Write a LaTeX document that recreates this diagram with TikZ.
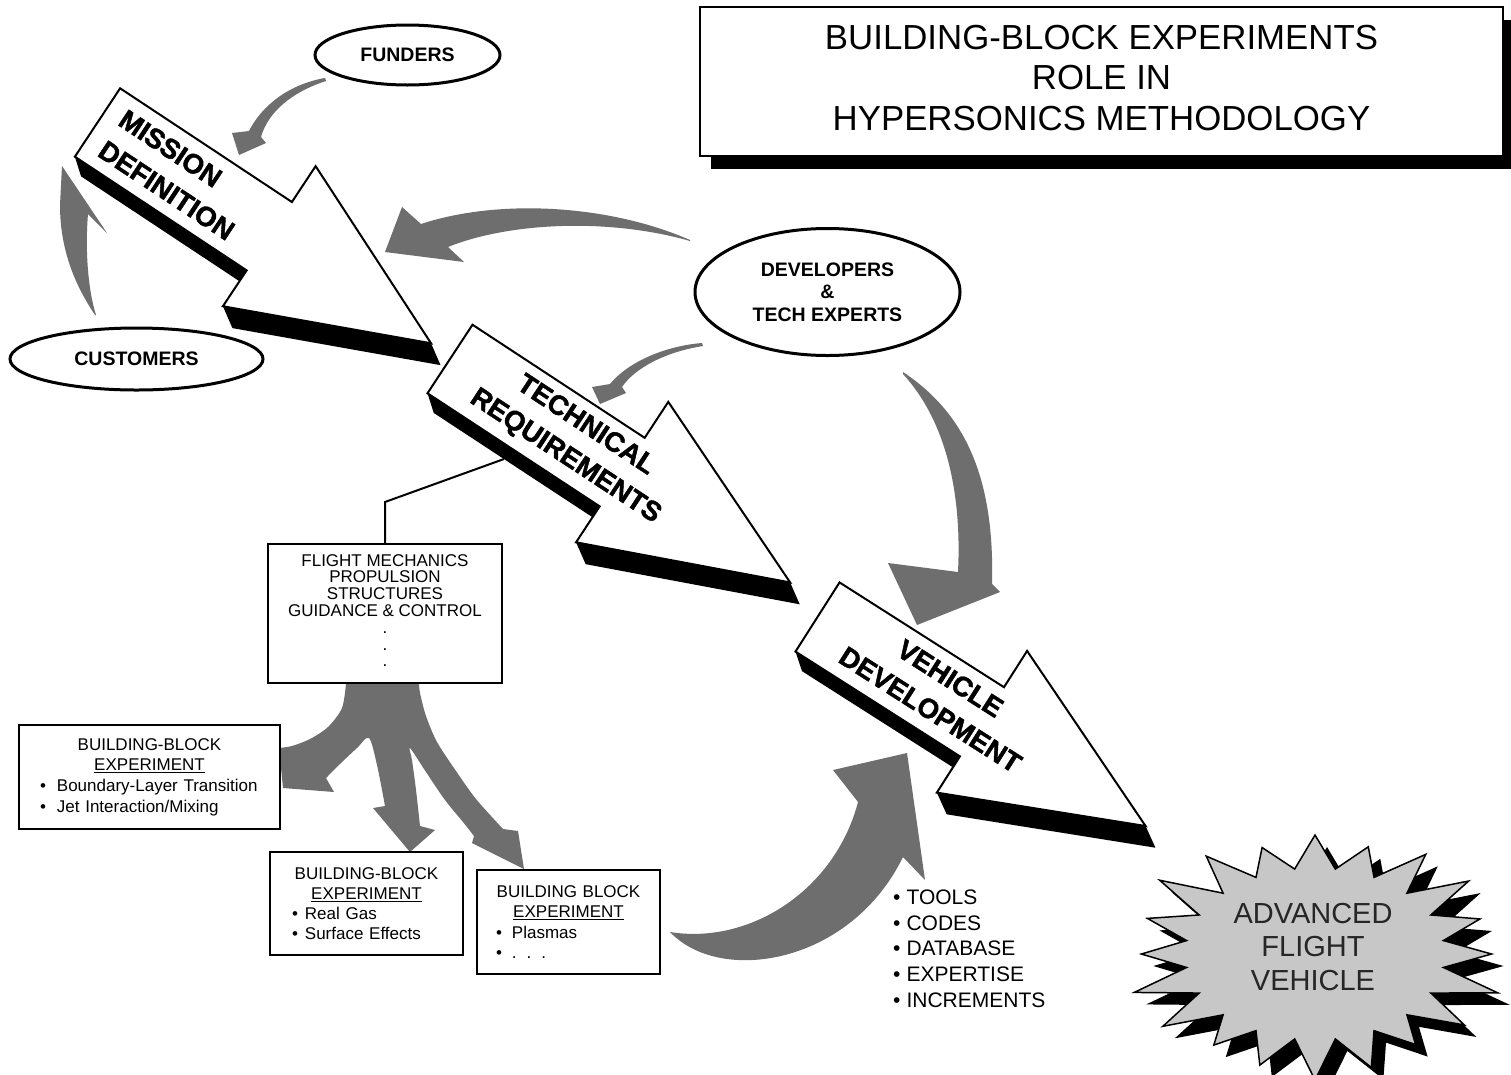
\documentclass[tikz,border=0pt]{standalone}
\usepackage{fontspec}
\setmainfont{Liberation Sans}
\newfontfamily\heavyfont[BoldFeatures={FakeBold=1.6}]{Liberation Sans}
\usetikzlibrary{shapes.geometric}
\begin{document}
\begin{tikzpicture}[x=1pt,y=-1pt,
  graya/.style={fill=black!57},
  blk/.style={draw=black, line width=2pt, fill=white, line join=miter},
  shd/.style={fill=black},
  arrowtext/.style={font=\heavyfont\fontsize{27.5}{37}\selectfont\bfseries, inner sep=0pt, transform shape, align=center},
  oval/.style={ellipse, draw, line width=3pt, fill=white, inner sep=0pt, font=\fontsize{19.5}{22.5}\selectfont\bfseries, align=center},
  bbox/.style={draw, line width=2pt, fill=white, inner ysep=0pt},
  conn/.style={line width=2pt},
]
\useasboundingbox (0,0) rectangle (1511,1074);
\fill[white] (0,0) rectangle (1511,1074);

% ---------- gray curved arrows ----------
% funders -> mission
\fill[graya] (325,78) .. controls (290,84) and (262,105) .. (249,131) -- (232,133) -- (239,155) -- (266,143) -- (261,137) .. controls (268,112) and (292,92) .. (326,81) -- cycle;
% customers -> mission
\fill[graya] (95,315) .. controls (75,285) and (60,250) .. (60,205) -- (62,166) -- (107,233) -- (88,214) .. controls (85,250) and (88,290) .. (96,315) -- cycle;
% developers -> mission
\fill[graya] (690,240) .. controls (610,205) and (500,198) .. (421,224) -- (402,207) -- (385,252) -- (464,262) -- (448,247) .. controls (510,222) and (610,218) .. (690,241) -- cycle;
% developers -> technical
\fill[graya] (702,343) .. controls (665,346) and (628,362) .. (610,384) -- (592,387) -- (600,404) -- (626,393) -- (622,387) .. controls (635,368) and (665,352) .. (703,346) -- cycle;
% developers -> vehicle
\fill[graya] (903,372) .. controls (960,410) and (995,470) .. (992,584) -- (1000,592) -- (917,625) -- (888,563) -- (958,572) .. controls (962,490) and (945,420) .. (903,374) -- cycle;
% experiments -> vehicle
\fill[graya] (670,932) .. controls (720,985) and (850,965) .. (903,857) -- (925,880) -- (907,753) -- (833,770) -- (858,802) .. controls (835,890) and (750,945) .. (670,932) -- cycle;
% fork from flight box to building-block experiments
\fill[graya] (346,683)
  -- plot[smooth, tension=0.5] coordinates {(346,683) (342,708) (328,727) (310,739) (292,746) (279,748)}
  -- (283,788) -- (334,792) -- (326,778)
  -- plot[smooth, tension=0.5] coordinates {(326,778) (341,763) (357,748) (369,738) (377,765) (385,806)}
  -- (373,808) -- (410,852) -- (435,830) -- (420,826)
  -- plot[smooth, tension=0.5] coordinates {(420,826) (416,790) (412,760) (410,748) (426,772) (445,800) (463,822) (474,836)}
  -- (472,843) -- (524,869) -- (518,831) -- (503,829)
  -- plot[smooth, tension=0.5] coordinates {(503,829) (476,799) (456,771) (437,742) (426,716) (420,693) (419,683)}
  -- cycle;

% ---------- block arrows ----------
\begin{scope}[shift={(97.5,122.5)}, rotate=-33.5]
  \fill[shd] (0,41) -- (206,41) -- (206,54) -- (16,54) -- cycle;
  \fill[shd] (206,84) -- (400,0) -- (420,13) -- (226,97) -- cycle;
  \draw[blk] (0,-41) -- (206,-41) -- (206,-84) -- (400,0) -- (206,84) -- (206,41) -- (0,41) -- cycle;
  \node[arrowtext, anchor=west, align=left] (mission) at (17,0) {MISSION\\DEFINITION};
\end{scope}
\begin{scope}[shift={(450,359)}, rotate=-33.3]
  \fill[shd] (0,41) -- (206,41) -- (206,54) -- (16,54) -- cycle;
  \fill[shd] (206,84) -- (407,0) -- (427,13) -- (226,97) -- cycle;
  \draw[blk] (0,-41) -- (206,-41) -- (206,-84) -- (407,0) -- (206,84) -- (206,41) -- (0,41) -- cycle;
  \node[arrowtext] (techreq) at (150,0) {TECHNICAL\\REQUIREMENTS};
  \coordinate (tap) at (100,54);
\end{scope}
\begin{scope}[shift={(817.5,617)}, rotate=-32.5]
  \fill[shd] (0,41) -- (195,41) -- (195,54) -- (16,54) -- cycle;
  \fill[shd] (195,84) -- (389,0) -- (409,13) -- (215,97) -- cycle;
  \draw[blk] (0,-41) -- (195,-41) -- (195,-84) -- (389,0) -- (195,84) -- (195,41) -- (0,41) -- cycle;
  \node[arrowtext] (vehdev) at (145,-1) {VEHICLE\\DEVELOPMENT};
\end{scope}

% ---------- title ----------
\fill[shd] (711,20) rectangle (1511,169);
\node[draw, line width=2pt, fill=white, minimum width=803pt, minimum height=149pt, inner sep=0pt,
      font=\fontsize{34.8}{40.5}\selectfont, align=center] (title) at (1101.5,81.5)
  {BUILDING-BLOCK EXPERIMENTS\\ROLE IN\\HYPERSONICS METHODOLOGY\rule[-8pt]{0pt}{8pt}};

% ---------- ovals ----------
\node[oval, minimum width=185pt, minimum height=60pt] (funders) at (407.5,55) {FUNDERS};
\node[oval, minimum width=253pt, minimum height=62pt] (customers) at (136.5,359) {CUSTOMERS};
\node[oval, minimum width=265pt, minimum height=127pt] (developers) at (827.5,292) {DEVELOPERS\\\&\\TECH EXPERTS};

% ---------- boxes ----------
\node[bbox, minimum width=234pt, minimum height=139pt, inner xsep=0pt, align=center,
      font=\fontsize{17}{16.8}\selectfont] (flight) at (385,613.5)
  {FLIGHT MECHANICS\\PROPULSION\\STRUCTURES\\GUIDANCE \& CONTROL\\.\\.\\.\rule[-6pt]{0pt}{6pt}};
\draw[conn] (tap) -- (flight.north |- 0,502) -- (flight.north);

\node[bbox, minimum height=104pt, text width=219pt, inner xsep=21pt,
      font=\fontsize{17}{20.7}\selectfont] (bb1) at (149.5,777)
  {{\centering BUILDING-BLOCK\\\underline{EXPERIMENT}\par}
   \textbullet\hspace{11pt}Boundary-Layer Transition\\
   \textbullet\hspace{11pt}Jet Interaction/Mixing};
\node[bbox, minimum height=103pt, text width=149pt, inner xsep=22pt,
      font=\fontsize{17}{20}\selectfont] (bb2) at (366.5,903.5)
  {{\centering BUILDING-BLOCK\\\underline{EXPERIMENT}\par}
   \textbullet\hspace{7pt}Real Gas\\
   \textbullet\hspace{7pt}Surface Effects};
\node[bbox, minimum height=104pt, text width=145pt, inner xsep=19pt,
      font=\fontsize{17}{20.3}\selectfont] (bb3) at (568.5,922)
  {{\centering BUILDING BLOCK\\\underline{EXPERIMENT}\par}
   \textbullet\hspace{10pt}Plasmas\\
   \textbullet\hspace{10pt}.\hspace{10pt}.\hspace{10pt}.};

% ---------- outputs list ----------
\node[font=\fontsize{21}{25.75}\selectfont, align=left, anchor=north west, inner sep=0pt] (tools) at (893,889.4)
  {\textbullet\hspace{6pt}TOOLS\\\textbullet\hspace{6pt}CODES\\\textbullet\hspace{6pt}DATABASE\\\textbullet\hspace{6pt}EXPERTISE\\\textbullet\hspace{6pt}INCREMENTS};

% ---------- starburst ----------
\fill[black] plot[samples at={0,...,39}, variable=\k]
  ({1327 + ((mod(\k,2)==0) ? 182*(1+0.06*sin(\k*131)) : 130)*cos(\k*9+90)},
   {966 - ((mod(\k,2)==0) ? 119*(1+0.06*sin(\k*131)) : 86)*sin(\k*9+90)}) -- cycle;
\filldraw[fill=black!22, draw=black, line width=1.5pt, line join=miter] plot[samples at={0,...,39}, variable=\k]
  ({1315 + ((mod(\k,2)==0) ? 182*(1+0.06*sin(\k*131)) : 130)*cos(\k*9+90)},
   {954 - ((mod(\k,2)==0) ? 119*(1+0.06*sin(\k*131)) : 86)*sin(\k*9+90)}) -- cycle;
\node[font=\fontsize{29}{33.5}\selectfont, align=center, inner sep=0pt, text=black!85] (afv) at (1313,946.5)
  {ADVANCED\\FLIGHT\\VEHICLE};
\end{tikzpicture}
\end{document}
